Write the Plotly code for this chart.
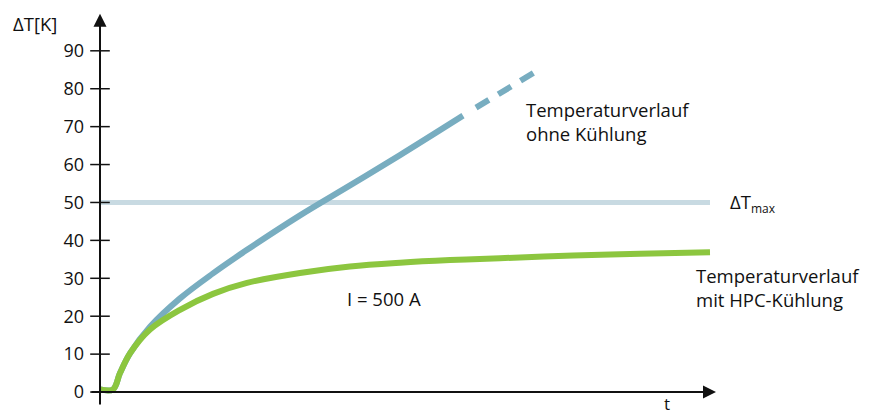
import plotly.graph_objects as go

# Data (t in arbitrary time units, dT in K)
t_blue = [0, 13, 20, 30, 50, 80, 113, 147, 200, 250, 300, 363]
dT_blue = [0.7, 0.7, 5.0, 10.2, 17.2, 24.7, 31.3, 37.5, 46.6, 54.5, 62.5, 72.9]
t_blue_dash = [376, 403, 435]
dT_blue_dash = [75.0, 79.3, 84.4]
t_green = [0, 13, 20, 30, 50, 80, 113, 147, 200, 250, 300, 350, 400, 473, 540, 610]
dT_green = [0.7, 0.7, 5.0, 10.2, 16.5, 21.7, 25.9, 28.8, 31.4, 33.1, 34.1, 34.8, 35.3, 36.0, 36.5, 36.9]
t_max = [0, 610]
dT_max = [50, 50]
y_ticks = [0, 10, 20, 30, 40, 50, 60, 70, 80, 90]

BLUE = "#78adc0"
GREEN = "#8cc63f"
LIGHT = "#c8dae2"
FONT = "Open Sans"

W, H = 871, 414
ML, MR, MT, MB = 88, 151, 11, 3

fig = go.Figure()
fig.add_trace(go.Scatter(x=t_max, y=dT_max, mode="lines",
                         line=dict(color=LIGHT, width=5), hoverinfo="skip"))
fig.add_trace(go.Scatter(x=t_blue, y=dT_blue, mode="lines",
                         line=dict(color=BLUE, width=6, shape="spline", smoothing=1.0)))
fig.add_trace(go.Scatter(x=t_blue_dash, y=dT_blue_dash, mode="lines",
                         line=dict(color=BLUE, width=6, dash="15px,11px")))
fig.add_trace(go.Scatter(x=t_green, y=dT_green, mode="lines",
                         line=dict(color=GREEN, width=6, shape="spline", smoothing=1.0)))
# crossing tick marks on the y axis
fig.add_trace(go.Scatter(x=[0] * len(y_ticks), y=y_ticks, mode="markers",
                         marker=dict(symbol="line-ew-open", size=14, color="#111",
                                     line=dict(color="#111", width=1.5)),
                         hoverinfo="skip"))

# axes arrows
fig.add_annotation(x=0, y=99.8, ax=0, ay=-3.7, xref="x", yref="y", axref="x", ayref="y",
                   text="", showarrow=True, arrowhead=2, arrowsize=1.3, arrowwidth=2,
                   arrowcolor="#111")
fig.add_annotation(x=616, y=0, ax=-10, ay=0, xref="x", yref="y", axref="x", ayref="y",
                   text="", showarrow=True, arrowhead=2, arrowsize=1.3, arrowwidth=2,
                   arrowcolor="#111")

txt = dict(family=FONT, size=18.5, color="#111")
PW, PH = W - ML - MR, H - MT - MB


def px(x, y, text, xanchor="left", align="left", size=None):
    f = dict(txt)
    if size:
        f["size"] = size
    fig.add_annotation(x=(x - ML) / PW, y=1 - (y - MT) / PH, xref="paper", yref="paper",
                       text=text, showarrow=False, xanchor=xanchor, yanchor="middle",
                       align=align, font=f)


px(11, 24, "ΔT[K]")
px(667, 403, "t", xanchor="center", size=17)
px(524, 121, "Temperaturverlauf<br>ohne Kühlung")
px(728, 203, "ΔT<sub><span style='font-size:12px'>max</span></sub>")
px(694, 287, "Temperaturverlauf<br>mit HPC-Kühlung")
px(345, 298, "I = 500 A")

fig.update_layout(
    width=W, height=H,
    margin=dict(l=ML, r=MR, t=MT, b=MB),
    plot_bgcolor="white", paper_bgcolor="white",
    showlegend=False,
    xaxis=dict(range=[-12, 620], showgrid=False, zeroline=False, showticklabels=False,
               ticks="", showline=False, automargin=False),
    yaxis=dict(range=[-5, 100.5], showgrid=False, zeroline=False, tickvals=y_ticks,
               ticks="", showline=False, tickfont=dict(family=FONT, size=18, color="#111"),
               ticklabelstandoff=3, automargin=False),
)
fig.write_html("out.html", config=dict(displayModeBar=False),
               post_script="document.body.style.margin='0';document.body.style.overflow='hidden';")
